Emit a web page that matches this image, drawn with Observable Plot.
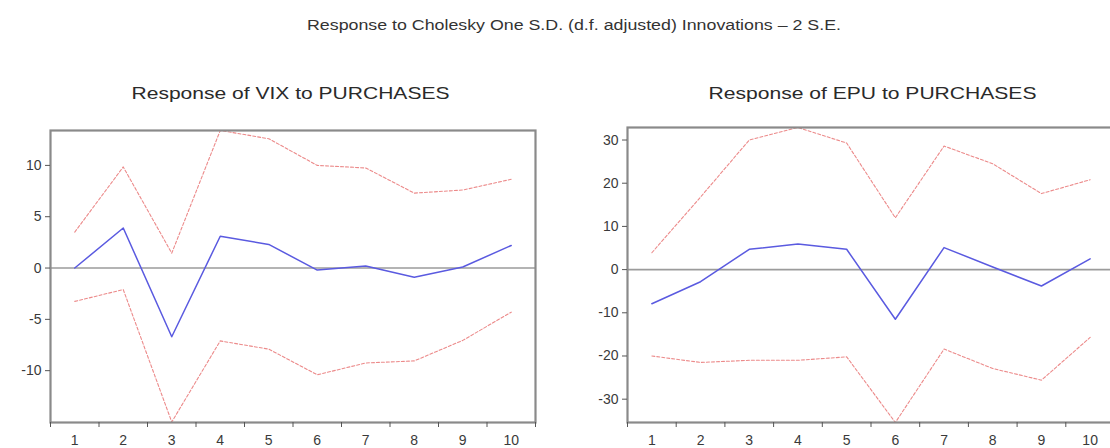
<!DOCTYPE html>
<html>
<head>
<meta charset="utf-8">
<script src="https://cdn.jsdelivr.net/npm/d3@7"></script>
<script src="https://cdn.jsdelivr.net/npm/@observablehq/plot@0.6"></script>
<style>
  html, body { margin: 0; padding: 0; background: #fff; overflow: hidden; }
  #wrap { position: relative; width: 1110px; height: 448px; overflow: hidden; background: #fff; }
  #wrap > svg, #wrap > div { position: absolute; }
</style>
</head>
<body>
<div id="wrap"></div>
<script>
// ---- data ----
const periods = [1, 2, 3, 4, 5, 6, 7, 8, 9, 10];
const vixResp  = [0, 3.9, -6.7, 3.1, 2.3, -0.2, 0.2, -0.9, 0.1, 2.2];
const vixUpper = [3.5, 9.85, 1.45, 13.4, 12.6, 10.0, 9.75, 7.3, 7.6, 8.65];
const vixLower = [-3.25, -2.1, -15.0, -7.1, -7.9, -10.4, -9.25, -9.05, -7.05, -4.3];
const epuResp  = [-7.9, -2.8, 4.7, 5.9, 4.7, -11.5, 5.1, 0.6, -3.8, 2.5];
const epuUpper = [3.9, 16.8, 30.0, 32.9, 29.3, 12.0, 28.6, 24.5, 17.6, 20.8];
const epuLower = [-20.0, -21.5, -21.0, -21.0, -20.2, -35.4, -18.4, -22.9, -25.6, -15.7];
const vixTicks = [-10, -5, 0, 5, 10];
const epuTicks = [-30, -20, -10, 0, 10, 20, 30];
const mainTitle = "Response to Cholesky One S.D. (d.f. adjusted) Innovations \u2013 2 S.E.";
const vixTitle = "Response of VIX to PURCHASES";
const epuTitle = "Response of EPU to PURCHASES";

const wrap = document.getElementById("wrap");
const halfTicks = d3.range(0.5, 11, 1);

function panel({resp, upper, lower, ydom, yticks, width, top, bottom, ml, mr}) {
  const rows = periods.map((p, i) => ({period: p, resp: resp[i], upper: upper[i], lower: lower[i]}));
  return Plot.plot({
    width,
    height: 448,
    marginTop: top,
    marginBottom: 448 - bottom,
    marginLeft: ml,
    marginRight: mr,
    x: {domain: [0.5, 10.5]},
    y: {domain: ydom},
    style: {fontFamily: "'Liberation Sans', Arial, sans-serif", fontSize: "13px", color: "#555", background: "transparent"},
    marks: [
      Plot.ruleY([0], {stroke: "#9b9b9b", strokeWidth: 1.6}),
      Plot.line(rows, {x: "period", y: "upper", stroke: "#ec8a8a", strokeWidth: 1.1, strokeDasharray: "3,2"}),
      Plot.line(rows, {x: "period", y: "lower", stroke: "#ec8a8a", strokeWidth: 1.1, strokeDasharray: "3,2"}),
      Plot.line(rows, {x: "period", y: "resp", stroke: "#5a5ae0", strokeWidth: 1.5}),
      Plot.frame({stroke: "#8a8a8a", strokeWidth: 2.2}),
      Plot.axisY({ticks: yticks, tickSize: 5, tickPadding: 4, label: null, fill: "#3a3a3a", fontSize: 14,
        tickFormat: d => String(d)}),
      Plot.axisX({ticks: periods, tickSize: 0, tickPadding: 13, label: null, fill: "#3a3a3a", fontSize: 14}),
      Plot.axisX({ticks: halfTicks, tickSize: 5, tickFormat: () => "", label: null})
    ]
  });
}

const left = panel({resp: vixResp, upper: vixUpper, lower: vixLower, ydom: [-15.05, 13.4], yticks: vixTicks,
  width: 580, top: 130, bottom: 422, ml: 50, mr: 580 - 535});
left.style.left = "0px"; left.style.top = "0px";
wrap.appendChild(left);

const right = panel({resp: epuResp, upper: epuUpper, lower: epuLower, ydom: [-35.4, 32.9], yticks: epuTicks,
  width: 580, top: 127, bottom: 422, ml: 627 - 560, mr: 580 - (1114 - 560)});
right.style.left = "560px"; right.style.top = "0px";
wrap.appendChild(right);

// titles
const svg = d3.create("svg").attr("width", 1110).attr("height", 448)
  .style("left", "0px").style("top", "0px").style("pointer-events", "none")
  .attr("font-family", "'Liberation Sans', Arial, sans-serif");
svg.append("text").attr("x", 574).attr("y", 30).attr("text-anchor", "middle")
  .attr("font-size", 14).attr("fill", "#333")
  .attr("textLength", 534).attr("lengthAdjust", "spacingAndGlyphs").text(mainTitle);
svg.append("text").attr("x", 290.5).attr("y", 99).attr("text-anchor", "middle")
  .attr("font-size", 17).attr("fill", "#2a2a2a")
  .attr("textLength", 318).attr("lengthAdjust", "spacingAndGlyphs").text(vixTitle);
svg.append("text").attr("x", 872.5).attr("y", 99).attr("text-anchor", "middle")
  .attr("font-size", 17).attr("fill", "#2a2a2a")
  .attr("textLength", 328).attr("lengthAdjust", "spacingAndGlyphs").text(epuTitle);
wrap.appendChild(svg.node());
</script>
</body>
</html>
